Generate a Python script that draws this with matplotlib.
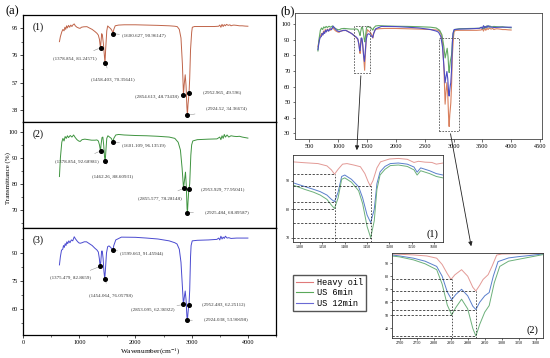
import numpy as np
import matplotlib
matplotlib.use("Agg")
import matplotlib.pyplot as plt
from matplotlib.ticker import AutoMinorLocator, MultipleLocator
from matplotlib.patches import Rectangle, FancyArrowPatch
from matplotlib.lines import Line2D

plt.rcParams['font.family'] = ['Liberation Serif', 'DejaVu Serif']
plt.rcParams['mathtext.fontset'] = 'stix'

# ---------------- data (wavenumber, transmittance) ----------------
heavy_oil = [(648, 85.5), (665, 89), (691, 92.4), (710, 94), (730, 93), (745, 95.5), (760, 94),
             (775, 96.5), (790, 95), (810, 96.8), (830, 95.5), (850, 97), (870, 96), (890, 97.2),
             (911, 97.8), (930, 96.5), (960, 95.5), (1000, 94.8), (1018, 94.8), (1040, 95.5),
             (1080, 95.8), (1137, 95.9), (1180, 95), (1230, 94), (1280, 92.5), (1315, 91.3),
             (1340, 90), (1360, 87), (1372, 83), (1379, 81.2), (1386, 85), (1400, 91), (1412, 90),
             (1430, 84), (1445, 77), (1458, 70.4), (1470, 80), (1490, 93), (1506, 96.4), (1530, 95.5),
             (1560, 94.5), (1585, 93), (1601, 91), (1615, 94), (1640, 96.5), (1700, 97), (1800, 97.2),
             (2000, 97.2), (2200, 97), (2400, 96.8), (2600, 96.5), (2700, 96.2), (2744, 95.9),
             (2780, 94), (2810, 88), (2835, 70), (2854, 48.7), (2868, 56), (2885, 62.5), (2900, 55),
             (2915, 40), (2924, 34.4), (2935, 42), (2945, 46), (2953, 49.6), (2965, 60), (2980, 80),
             (3000, 92), (3012, 95.5), (3050, 96), (3200, 96), (3400, 96), (3480, 96.2), (3500, 97),
             (3520, 95.5), (3540, 97.5), (3560, 96), (3580, 97.3), (3600, 96.5), (3620, 97.5),
             (3650, 96.8), (3680, 97.2), (3700, 96.5), (3720, 96.8), (3750, 97), (3800, 96.8),
             (3850, 96.5), (3900, 96.5), (3950, 96.3), (4000, 96.2)]

us_6min = [(648, 82.8), (665, 90), (690, 96), (710, 97.5), (730, 96.5), (749, 98.2), (770, 97.5),
           (790, 98.5), (810, 97.8), (840, 98.6), (870, 98), (900, 98.8), (930, 97.8), (960, 97),
           (990, 96.5), (1016, 96.3), (1050, 97), (1100, 97.2), (1160, 97), (1220, 96.8), (1280, 96.8),
           (1314, 96.9), (1340, 96.5), (1360, 95), (1372, 93.5), (1379, 92.7), (1388, 95), (1405, 97.8),
           (1420, 98), (1435, 95), (1450, 90.5), (1462, 88.6), (1475, 93), (1490, 97.5), (1510, 98.5),
           (1540, 98), (1570, 97.5), (1590, 96.6), (1601, 96.1), (1615, 97.5), (1650, 98.8), (1700, 99),
           (1800, 98.8), (2000, 98.6), (2200, 98.5), (2400, 98.3), (2600, 98), (2700, 97.5), (2760, 96),
           (2800, 93), (2830, 86), (2855, 78.3), (2870, 81), (2890, 84.5), (2905, 79), (2918, 70.5),
           (2925, 68.9), (2935, 73), (2945, 76.5), (2954, 77.95), (2965, 80), (2985, 91), (3000, 95),
           (3020, 96.5), (3100, 97), (3300, 97.2), (3450, 97.3), (3500, 98), (3520, 97), (3540, 98.5),
           (3560, 97.5), (3580, 99), (3600, 98), (3630, 98.8), (3660, 98), (3700, 98.5), (3750, 98.3),
           (3800, 98.2), (3850, 98.3), (3900, 98), (3950, 97.8), (4000, 97.6)]

us_12min = [(648, 83.6), (665, 88), (685, 91.5), (707, 92), (720, 94), (735, 93), (750, 95), (765, 94),
            (780, 96), (795, 95), (815, 96.5), (835, 95.5), (860, 97), (885, 96.5), (911, 98.7),
            (935, 97.5), (960, 96.5), (990, 95.5), (1016, 95.2), (1050, 95.5), (1090, 96), (1130, 96),
            (1180, 95), (1230, 94), (1280, 92.5), (1315, 91.6), (1340, 90.5), (1358, 87), (1368, 84),
            (1375, 82.87), (1383, 85), (1398, 91), (1410, 91), (1425, 87), (1440, 80), (1454, 76.06),
            (1466, 81), (1485, 90), (1506, 93.4), (1530, 93.8), (1560, 93), (1585, 92), (1599, 91.4),
            (1615, 94), (1650, 97), (1750, 98.5), (2000, 98.4), (2200, 98), (2400, 97.5), (2600, 96.5),
            (2700, 95.5), (2740, 94.8), (2780, 92), (2810, 85), (2835, 72), (2853, 62.37), (2868, 66),
            (2885, 69.6), (2900, 65), (2915, 56), (2924, 53.9), (2935, 58), (2945, 61), (2952, 62.25),
            (2965, 70), (2980, 88), (2990, 94), (3010, 96.5), (3100, 96.8), (3300, 97), (3450, 97.3),
            (3480, 98), (3500, 97), (3520, 99), (3540, 97.5), (3560, 98.5), (3580, 97.8), (3600, 99),
            (3630, 98), (3660, 98.2), (3700, 97.8), (3800, 98), (3900, 98), (4000, 98)]

peaks_heavy = [(1378.854, 81.24571), (1458.403, 70.35641), (1600.627, 90.96147),
               (2854.613, 48.73438), (2952.965, 49.596), (2924.52, 34.36674)]
peaks_6min = [(1378.854, 92.68981), (1462.26, 88.60931), (1601.109, 96.13519),
              (2855.577, 78.28148), (2953.929, 77.95041), (2925.484, 68.89587)]
peaks_12min = [(1375.479, 82.8659), (1454.064, 76.05798), (1599.663, 91.45944),
               (2853.095, 62.36922), (2952.483, 62.25112), (2924.038, 53.90698)]
peak_labels_heavy = ["(1378.854, 81.24571)", "(1458.403, 70.35641)", "(1600.627, 90.96147)",
                     "(2854.613, 48.73438)", "(2952.965, 49.596)", "(2924.52, 34.36674)"]
peak_labels_6min = ["(1378.854, 92.68981)", "(1462.26, 88.60931)", "(1601.109, 96.13519)",
                    "(2855.577, 78.28148)", "(2953.929, 77.95041)", "(2925.484, 68.89587)"]
peak_labels_12min = ["(1375.479, 82.8659)", "(1454.064, 76.05798)", "(1599.663, 91.45944)",
                     "(2853.095, 62.36922)", "(2952.483, 62.25112)", "(2924.038, 53.90698)"]

# zoomed views (b)(1) and (b)(2)
zoom1_red = [(1284, 96.6), (1310, 96.3), (1340, 96), (1360, 95.2), (1370, 93.8), (1377, 92.3), (1385, 94),
             (1395, 95.8), (1405, 96), (1420, 95.5), (1435, 94.9), (1445, 92.5), (1452, 89.8), (1457, 88.2),
             (1463, 90), (1472, 94.5), (1480, 96.6), (1500, 97.6), (1520, 97.8), (1540, 97.5), (1555, 96.4),
             (1565, 96.8), (1580, 96.5), (1595, 96.4), (1605, 95.8), (1620, 96.2)]
zoom1_blue = [(1284, 89.3), (1310, 88), (1330, 87), (1345, 86.2), (1360, 85), (1370, 83.5), (1377, 82.7),
              (1385, 86), (1393, 91.5), (1400, 92), (1415, 90.5), (1431, 87.9), (1440, 84), (1450, 78),
              (1458, 75.4), (1466, 80), (1472, 89), (1479, 93.1), (1490, 95), (1502, 96), (1520, 96.2),
              (1540, 95.8), (1555, 94.8), (1562, 93), (1570, 94.5), (1590, 93.5), (1605, 92.5), (1620, 92)]
zoom1_green = [(1284, 88.5), (1310, 87), (1330, 86), (1345, 85), (1360, 83.5), (1370, 81.5), (1377, 80.3),
               (1385, 84), (1393, 90.5), (1400, 91), (1415, 89.5), (1431, 86.5), (1440, 82), (1450, 74),
               (1458, 70.1), (1466, 76), (1472, 87), (1479, 92), (1490, 94), (1502, 95.3), (1520, 95.5),
               (1540, 95), (1555, 93.8), (1562, 92), (1570, 93.5), (1590, 92.5), (1605, 91.5), (1620, 91)]
zoom1_marks = {1377: [92.3, 82.7, 80.3], 1458: [88.2, 75.2, 70.1]}

zoom2_red = [(2677, 97), (2700, 96.8), (2740, 96.3), (2780, 95.5), (2809, 93.8), (2825, 89), (2840, 82),
             (2851, 77.5), (2862, 81), (2882, 85), (2900, 80), (2915, 71.5), (2924, 68.7), (2935, 73),
             (2945, 77.5), (2960, 81.2), (2972, 88), (2985, 96.2), (3000, 97), (3050, 97.2), (3120, 97.3)]
zoom2_blue = [(2677, 96.3), (2700, 95.5), (2741, 93.8), (2775, 91.5), (2809, 87.5), (2825, 80), (2840, 68),
              (2853, 62), (2865, 66), (2882, 70), (2900, 65), (2915, 57), (2924, 54.5), (2935, 60),
              (2950, 65), (2963, 67.5), (2975, 80), (2989, 91.2), (3020, 94), (3050, 95), (3080, 95.8),
              (3120, 97)]
zoom2_green = [(2677, 95.5), (2700, 94.8), (2741, 92.5), (2775, 89.5), (2809, 85), (2825, 74), (2840, 58),
               (2853, 50.4), (2865, 56), (2882, 62.4), (2900, 55), (2915, 40), (2924, 34.2), (2935, 43),
               (2950, 52.5), (2963, 57.5), (2978, 75), (2994, 87.5), (3020, 91.5), (3050, 93), (3080, 94.5),
               (3120, 96.5)]
zoom2_marks = {2853: [77.5, 62, 50.4], 2924: [68.7, 54.5, 34.2]}

legend_labels = ["Heavy oil", "US 6min", "US 12min"]

# ---------------- layout helpers ----------------
W, H = 550, 358
fig = plt.figure(figsize=(W / 100, H / 100), dpi=100)


def rect(l, t, r, b):
    return [l / W, 1 - b / H, (r - l) / W, (b - t) / H]


def xy(points):
    a = np.array(points, dtype=float)
    return a[:, 0], a[:, 1]


# ---------------- panel (a) ----------------
col_a = ["#c0654a", "#3f9440", "#4a4ad0"]
series_a = [heavy_oil, us_6min, us_12min]
peaks_a = [peaks_heavy, peaks_6min, peaks_12min]
labels_a = [peak_labels_heavy, peak_labels_6min, peak_labels_12min]
rects_a = [(23, 15, 276, 122), (23, 122, 276, 228), (23, 228, 276, 335)]
ylims_a = [(29.7, 104), (63, 103.8), (46, 103.4)]
yticks_a = [[38, 57, 76, 95], [70, 80, 90, 100], [60, 75, 90]]
offsets_a = [
    [(-26, -11), (8, -17), (31, -2.5), (-27, -2.3), (33, 0.4), (39, 6.7)],
    [(-24, -11), (7.5, -15), (31, -4), (-24, -10.8), (34, -0.7), (39, 0.2)],
    [(-30, -12), (6, -17), (29, -4), (-31, -5.4), (35, 0), (38, 0.4)],
]
panel_tags = ["(1)", "(2)", "(3)"]

axes_a = []
for i in range(3):
    ax = fig.add_axes(rect(*rects_a[i]))
    axes_a.append(ax)
    x, y = xy(series_a[i])
    ax.plot(x, y, color=col_a[i], lw=0.7)
    px, py = xy(peaks_a[i])
    ax.plot(px, py, 'o', color='black', ms=2.6, zorder=5)
    for (pxi, pyi), lab, off in zip(peaks_a[i], labels_a[i], offsets_a[i]):
        ax.annotate(lab, xy=(pxi, pyi), xytext=off, textcoords='offset pixels',
                    fontsize=3.6, ha='center', va='center', color='#333333',
                    arrowprops=dict(arrowstyle='-', color='#888888', lw=0.35, shrinkA=6, shrinkB=1.5))
    ax.set_xlim(0, 4500)
    ax.set_ylim(*ylims_a[i])
    ax.set_yticks(yticks_a[i])
    ax.yaxis.set_minor_locator(AutoMinorLocator(2))
    ax.xaxis.set_major_locator(MultipleLocator(1000))
    ax.xaxis.set_minor_locator(MultipleLocator(500))
    ax.tick_params(which='major', length=2, width=0.5, labelsize=4.5, pad=1.5)
    ax.tick_params(which='minor', length=1.2, width=0.4)
    if i < 2:
        ax.tick_params(labelbottom=False)
    for s in ax.spines.values():
        s.set_linewidth(0.9)
    ax.text(0.04, 0.93, panel_tags[i], transform=ax.transAxes, fontsize=7, va='top', ha='left')

fig.text(150 / W, 1 - 351.5 / H, "Wavenumber(cm$^{-1}$)", fontsize=5.2, ha='center', va='center')
fig.text(8 / W, 1 - 178 / H, "Transmittance (%)", rotation=90, fontsize=5, ha='center', va='center')
fig.text(12 / W, 1 - 11 / H, "(a)", fontsize=9, ha='center', va='center')
fig.text(288 / W, 1 - 11 / H, "(b)", fontsize=9, ha='center', va='center')

# ---------------- panel (b) main ----------------
col_b = ["#d9805e", "#62a862", "#4c4cc4"]
axb = fig.add_axes(rect(295, 13.3, 542.3, 139.3))
for pts, c in zip(series_a, col_b):
    x, y = xy(pts)
    axb.plot(x, y, color=c, lw=0.8)
axb.set_xlim(250, 4540)
axb.set_ylim(26.2, 106.9)
axb.set_xticks(np.arange(500, 4501, 500))
axb.set_yticks(np.arange(30, 101, 10))
axb.tick_params(length=1.8, width=0.4, labelsize=4.5, pad=1.5)
for s in axb.spines.values():
    s.set_linewidth(0.6)
    s.set_color('#444444')
axb.add_patch(Rectangle((1276, 68.8), 1547 - 1276, 98.7 - 68.8, fill=False, ls=(0, (2, 1.5)),
                        lw=0.6, edgecolor='#555555', zorder=6))
axb.add_patch(Rectangle((2740, 31.6), 3087 - 2740, 91 - 31.6, fill=False, ls=(0, (2, 1.5)),
                        lw=0.6, edgecolor='#555555', zorder=6))

# ---------------- zoom insets ----------------
col_z = {"red": "#e39a96", "blue": "#5a7fcc", "green": "#6cb07a"}


def draw_zoom(ax, red, blue, green, marks, xlim, ylim, xticks, yticks, tag, tagpos):
    for pts, key in ((red, "red"), (blue, "blue"), (green, "green")):
        x, y = xy(pts)
        ax.plot(x, y, color=col_z[key], lw=0.7)
    ax.set_xlim(*xlim)
    ax.set_ylim(*ylim)
    for xm, ys in marks.items():
        for yv in ys:
            ax.plot([xlim[0], xm], [yv, yv], ls=(0, (3, 2)), color='#222222', lw=0.55)
        ax.plot([xm, xm], [ylim[0], max(ys)], ls=(0, (2, 2)), color='#222222', lw=0.55)
    ax.set_xticks(xticks)
    ax.set_yticks(yticks)
    ax.tick_params(length=1.2, width=0.4, labelsize=3.0, pad=1)
    for s in ax.spines.values():
        s.set_linewidth(0.6)
        s.set_color('#333333')
    ax.text(tagpos[0], tagpos[1], tag, transform=ax.transAxes, fontsize=7.5, ha='right', va='bottom')


ax_z1 = fig.add_axes(rect(293, 155, 443, 242))
draw_zoom(ax_z1, zoom1_red, zoom1_blue, zoom1_green, zoom1_marks, (1284, 1620), (68.6, 99),
          np.arange(1300, 1601, 50), [70, 80, 90], "(1)", (0.97, 0.04))
ax_z2 = fig.add_axes(rect(391.7, 252.7, 542.7, 338))
draw_zoom(ax_z2, zoom2_red, zoom2_blue, zoom2_green, zoom2_marks, (2677, 3120), (32.7, 98),
          np.arange(2700, 3101, 50), np.arange(40, 91, 10), "(2)", (0.97, 0.04))

# arrows from boxes to insets
for (x0, y0), (x1, y1) in [((361, 73), (356.7, 153)), ((450, 131), (471.7, 249))]:
    fig.add_artist(FancyArrowPatch((x0 / W, 1 - y0 / H), (x1 / W, 1 - y1 / H),
                                   transform=fig.transFigure, arrowstyle='-|>,head_length=2.5,head_width=1.2',
                                   color='#222222', lw=0.6, mutation_scale=1))

# legend
leg_colors = ["#e07a7a", "#5aa85a", "#6a6ad4"]
handles = [Line2D([], [], color=c, lw=0.8) for c in leg_colors]
fig.legend(handles, legend_labels, loc='upper left', bbox_to_anchor=(292.7 / W, 1 - 275 / H),
           prop={'family': 'Liberation Mono', 'size': 6.2}, frameon=True, fancybox=False,
           edgecolor='#555555', framealpha=1, borderpad=0.35, labelspacing=0.15,
           handlelength=2.0, handletextpad=0.5, borderaxespad=0)

fig.savefig("out.png", dpi=100)
